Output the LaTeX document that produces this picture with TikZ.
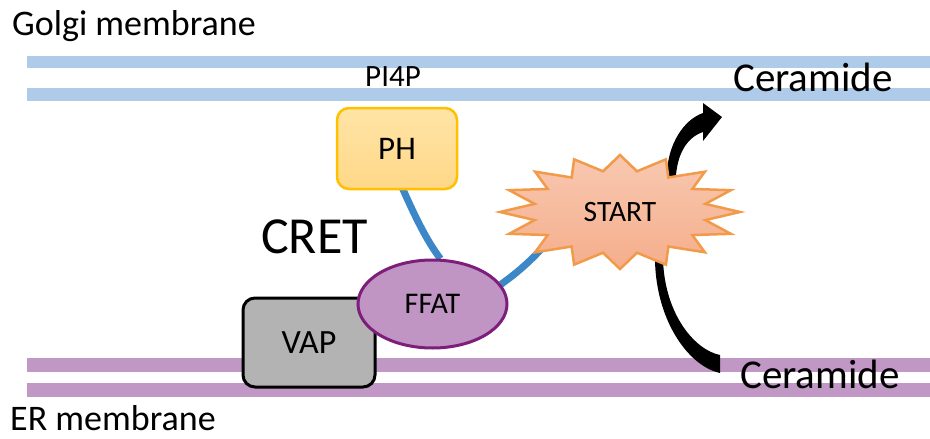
\documentclass[tikz,border=0pt]{standalone}
\usepackage{fontspec}
\setmainfont{Carlito}
\usetikzlibrary{shapes.geometric,calc}
\pgfdeclarelayer{background}
\pgfsetlayers{background,main}
\definecolor{golgicol}{HTML}{AECCEA}
\definecolor{ercol}{HTML}{C197C6}
\definecolor{linkcol}{HTML}{3B87C7}
\definecolor{phline}{HTML}{FFC000}
\definecolor{phtop}{HTML}{FFE4A6}
\definecolor{phbot}{HTML}{FFD888}
\definecolor{startline}{HTML}{F19A4A}
\definecolor{starttop}{HTML}{F8C8B0}
\definecolor{startbot}{HTML}{F5AE8C}
\definecolor{ffatfill}{HTML}{C095C4}
\definecolor{ffatline}{HTML}{7D1E7D}
\definecolor{vapfill}{HTML}{B3B3B3}
\newcommand\fsz[1]{\fontsize{#1}{#1}\selectfont}
\tikzset{
  lbl/.style={inner sep=0pt, anchor=base west},
  conn/.style={draw=linkcol, line width=7pt},
  phbox/.style={draw=phline, line width=2.5pt, rounded corners=12pt, top color=phtop, bottom color=phbot,
     minimum width=120pt, minimum height=81pt, inner sep=0pt, font=\fsz{33}},
  vapbox/.style={draw=black, line width=3pt, rounded corners=12pt, fill=vapfill,
     minimum width=132pt, minimum height=89pt, inner sep=0pt, font=\fsz{34}},
  ffatnode/.style={ellipse, draw=ffatline, line width=3pt, fill=ffatfill,
     minimum width=149pt, minimum height=88pt, inner sep=0pt, font=\fsz{30}},
}
\begin{document}
\begin{tikzpicture}[x=1pt,y=-1pt]
\useasboundingbox (0,0) rectangle (930,439);
% labels
\node[lbl, font=\fsz{36}] (golgi) at (12,35) {Golgi membrane};
\node[lbl, font=\fsz{36}] (er) at (10,430) {ER membrane};
\node[inner sep=0pt, anchor=base, font=\fsz{31}] (pi4p) at (393,86) {PI4P};
\node[lbl, font=\fsz{41}] (cer1) at (733,91) {Ceramide};
\node[lbl, font=\fsz{41}] (cer2) at (740,388) {Ceramide};
\node[lbl, font=\fsz{52}] (cret) at (261,253) {CRET};
% START star
\path[draw=startline, line width=2.5pt, line join=miter, top color=starttop, bottom color=startbot]
  (740,212) \foreach \k in {0,...,15} {
     -- ({620+87*cos(\k*22.5+11.25)},{212+41.5*sin(\k*22.5+11.25)})
     -- ({620+120*cos((\k+1)*22.5)},{212+57*sin((\k+1)*22.5)}) } -- cycle;
\node[ellipse, minimum width=240pt, minimum height=114pt, inner sep=0pt, font=\fsz{29.5}] (start) at (620,212) {START};
% boxes
\node[phbox] (ph) at (397,148.5) {PH};
\node[vapbox] (vap) at (309,342.5) {VAP};
\node[ffatnode] (ffat) at (432.5,304) {FFAT};
\begin{pgfonlayer}{background}
% membranes
\fill[golgicol] (27,56) rectangle (930,68);
\fill[golgicol] (27,88) rectangle (930,101);
\fill[ercol] (27,358) rectangle (930,372);
\fill[ercol] (27,383) rectangle (930,397);
% blue connectors
\draw[conn] ($(ph.south)+(5,-3)$) .. controls (414,214) and (426,240) .. (ffat.80);
\draw[conn] (ffat.16) .. controls (518,272) and (535,258) .. ($(start.center)+(-66,22)$);
% black transfer arrows
\fill[black] (665,188) -- (667,173) .. controls (668,145) and (683,120) .. (703,113)
   -- (703,103) -- (722,117) -- (703,141) -- (703,132)
   .. controls (688,137) and (678,152) .. (676,175) -- (677,188) -- cycle;
\fill[black] (655,240) -- (655,260) .. controls (656,320) and (688,366) .. (720,373)
   -- (720,355) .. controls (695,350) and (665,315) .. (663,260) -- (663,240) -- cycle;
\end{pgfonlayer}
\end{tikzpicture}
\end{document}
